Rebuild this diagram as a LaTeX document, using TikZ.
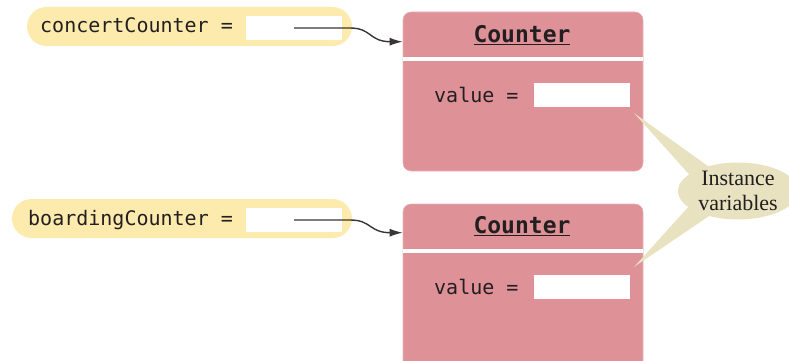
\documentclass[tikz,border=0pt]{standalone}
\usepackage{fontspec}
\setmonofont{DejaVu Sans Mono}
\newfontfamily\notefamily{Liberation Serif}
\usetikzlibrary{shapes.geometric,arrows.meta,calc}
\definecolor{pillY}{RGB}{253,235,174}
\definecolor{objP}{RGB}{222,145,151}
\definecolor{noteC}{RGB}{232,226,193}
\definecolor{inkC}{RGB}{35,31,32}
\newcommand\codefont{\ttfamily\fontsize{20}{24}\selectfont}
\newcommand\headfont{\ttfamily\bfseries\fontsize{23}{27}\selectfont}
\newcommand\notefont{\notefamily\fontsize{22}{25}\selectfont}
\begin{document}
\begin{tikzpicture}[x=1pt,y=-1pt,
  pill/.style={fill=pillY, draw=none, rounded corners=19.5pt, inner sep=0pt, minimum height=39pt},
  objbox/.style={fill=objP, draw=objP!70!white, line width=0.6pt, rounded corners=8pt, inner sep=0pt, minimum width=240pt},
  valbox/.style={fill=white, draw=none, inner sep=0pt, minimum width=96pt, minimum height=24pt},
  lbl/.style={font=\codefont, text=inkC, inner sep=0pt, anchor=base west},
  head/.style={font=\headfont, text=inkC, inner sep=0pt, anchor=base},
  sep/.style={white, line width=3.5pt},
  ptr/.style={draw=inkC!90, line width=1.4pt, -{Latex[length=13pt,width=8pt]}},
  wedge/.style={fill=noteC, draw=none},
  note/.style={ellipse, fill=noteC, draw=none, minimum width=120pt, minimum height=57pt, inner sep=0pt, align=center, font=\notefont, text=inkC}
]
\useasboundingbox (0,0) rectangle (789,361);

% reference variables
\node[pill, minimum width=325pt] (pill1) at (189.5,26.5) {};
\node[lbl] (name1) at (40,33) {concertCounter =};
\node[valbox] (ref1) at (294,28) {};

\node[pill, minimum width=340pt] (pill2) at (182,218.5) {};
\node[lbl] (name2) at (28,225) {boardingCounter =};
\node[valbox] (ref2) at (294,220) {};

% objects
\node[objbox, minimum height=159pt] (obj1) at (523,91.5) {};
\draw[sep] (obj1.west |- 0,59) -- (obj1.east |- 0,59);
\node[head] (h1) at (522,42) {\underline{Counter}};
\node[lbl] (v1) at (434,102) {value =};
\node[valbox] (val1) at (582,95) {};

\node[objbox, minimum height=170pt] (obj2) at (523,289) {};
\draw[sep] (obj2.west |- 0,251) -- (obj2.east |- 0,251);
\node[head] (h2) at (522,233) {\underline{Counter}};
\node[lbl] (v2) at (434,294) {value =};
\node[valbox] (val2) at (582,287) {};

% pointers
\coordinate (tip1) at ($(obj1.north west)+(0,30)$);
\coordinate (tip2) at ($(obj2.north west)+(0,29)$);
\draw[ptr] (ref1.center) -- ++(56,0) .. controls +(22,0) and +(-22,0) .. ($(tip1)+(-12,0)$) -- (tip1);
\draw[ptr] (ref2.center) -- ++(56,0) .. controls +(22,0) and +(-22,0) .. ($(tip2)+(-12,0)$) -- (tip2);

% callout
\coordinate (nc) at (738,191);
\coordinate (w1) at ($(val1.south east)+(4,6)$);
\coordinate (w2) at ($(val2.north east)+(4,-8)$);
\fill[wedge] (w1) -- ($(nc)+(-26,-22)$) -- ($(nc)+(-43,-10)$) -- cycle;
\fill[wedge] (w2) -- ($(nc)+(-48,14)$) -- ($(nc)+(-23,21)$) -- cycle;
\node[note] (note) at (nc) {Instance\\variables};
\end{tikzpicture}
\end{document}
